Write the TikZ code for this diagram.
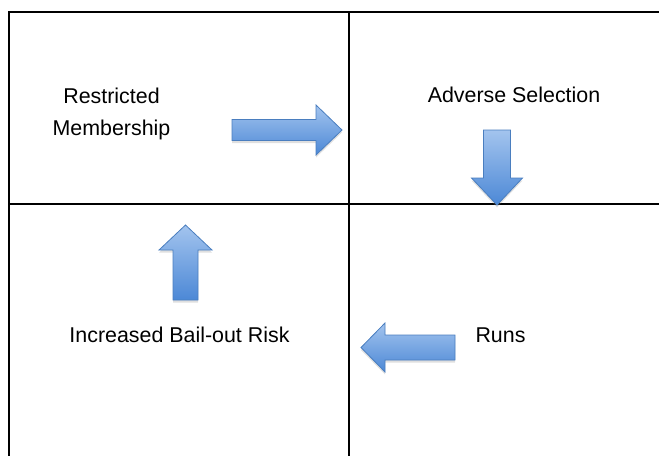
\documentclass[tikz,border=0pt]{standalone}
\usepackage{fontspec}
\setmainfont{Liberation Sans}
\usetikzlibrary{shadows}
\definecolor{arrowtop}{HTML}{A3C4EE}
\definecolor{arrowbot}{HTML}{4C88D6}
\definecolor{arrowedge}{HTML}{4A7EBF}
\tikzset{
  grid/.style={line width=2pt, black},
  lbl/.style={font=\fontsize{21.4}{31.7}\selectfont, anchor=base, align=center, inner sep=0pt},
  blockarrow/.style={draw=arrowedge, line width=0.8pt, top color=arrowtop, bottom color=arrowbot, line join=miter,
    drop shadow={opacity=0.25, shadow xshift=0pt, shadow yshift=-2.5pt}}
}
\begin{document}
\begin{tikzpicture}[x=1pt,y=-1pt]
\useasboundingbox (0,0) rectangle (659,456);
% grid
\coordinate (tl) at (9,12);
\coordinate (tr) at (659,12);
\coordinate (bl) at (9,456);
\coordinate (mt) at (349,12);
\coordinate (mb) at (349,456);
\coordinate (ml) at (9,204);
\coordinate (mr) at (659,204);
\draw[grid] (tr) -- (tl) -- (bl);
\draw[grid] (mt) -- (mb);
\draw[grid] (ml) -- (mr);
% labels
\node[lbl] (restricted) at (111.5,135) {Restricted\\Membership};
\node[lbl] (adverse) at (514,102.3) {Adverse Selection};
\node[lbl] (runs) at (500.5,342) {Runs};
\node[lbl] (bailout) at (179.5,342) {Increased Bail-out Risk};
% right arrow
\path[blockarrow] (232,119.5) -- (316,119.5) -- (316,105) -- (342,130) -- (316,155) -- (316,140.5) -- (232,140.5) -- cycle;
% down arrow
\path[blockarrow] (483.5,130) -- (510.5,130) -- (510.5,178) -- (522.5,178) -- (497,205) -- (471.5,178) -- (483.5,178) -- cycle;
% up arrow
\path[blockarrow] (173,300) -- (173,250) -- (159,250) -- (185.5,225) -- (212,250) -- (198,250) -- (198,300) -- cycle;
% left arrow
\path[blockarrow] (455,335) -- (385,335) -- (385,323) -- (361,347.5) -- (385,372) -- (385,360) -- (455,360) -- cycle;
\end{tikzpicture}
\end{document}
